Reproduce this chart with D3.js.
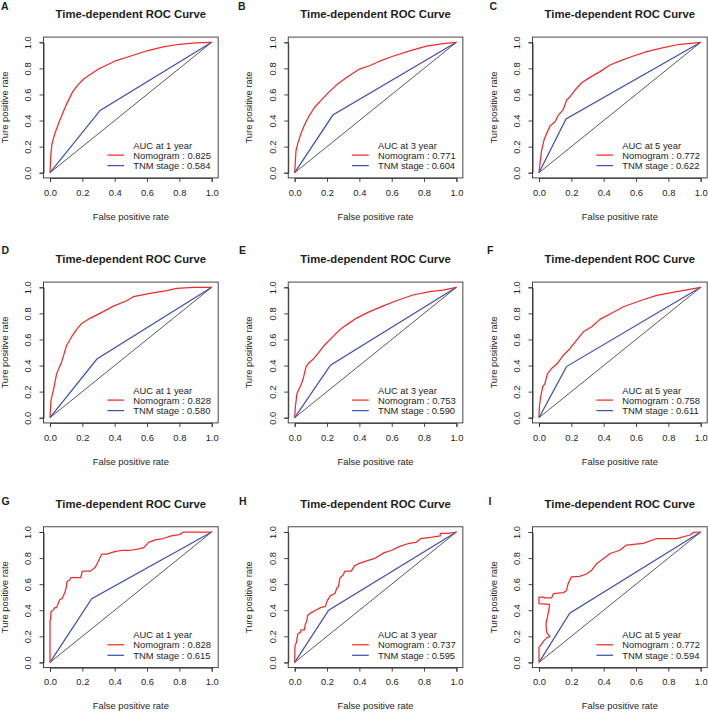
<!DOCTYPE html>
<html>
<head>
<meta charset="utf-8">
<script src="https://cdn.jsdelivr.net/npm/d3@7"></script>
<style>
  html, body { margin: 0; padding: 0; background: #fff; }
  svg { display: block; font-family: "Liberation Sans", Arial, sans-serif; }
</style>
</head>
<body>
<div id="chart"></div>
<script>
// ---------------- data ----------------
const panelLabels = ["A", "B", "C", "D", "E", "F", "G", "H", "I"];
const years = [1, 3, 5, 1, 3, 5, 1, 3, 5];
const nomogramAUC = ["0.825", "0.771", "0.772", "0.828", "0.753", "0.758", "0.828", "0.737", "0.772"];
const tnmAUC = ["0.584", "0.604", "0.622", "0.580", "0.590", "0.611", "0.615", "0.595", "0.594"];
const tnmKnotFPR = [0.31, 0.236, 0.167, 0.29, 0.221, 0.17, 0.258, 0.21, 0.19];
const tnmKnotTPR = [0.478, 0.442, 0.412, 0.45, 0.403, 0.392, 0.488, 0.40, 0.378];
const xTicks = [0, 0.2, 0.4, 0.6, 0.8, 1.0];
const yTicks = [0, 0.2, 0.4, 0.6, 0.8, 1.0];

const nomogramA = [[0,0],[0.004,0.1],[0.006,0.15],[0.012,0.22],[0.03,0.3],[0.06,0.4],[0.1,0.52],[0.14,0.62],[0.17,0.67],[0.21,0.72],[0.3,0.795],[0.4,0.855],[0.5,0.895],[0.6,0.935],[0.7,0.965],[0.8,0.985],[0.9,0.995],[1,1]];
const nomogramB = [[0,0],[0.008,0.17],[0.019,0.225],[0.039,0.3],[0.06,0.366],[0.091,0.44],[0.122,0.5],[0.163,0.555],[0.205,0.61],[0.256,0.67],[0.318,0.728],[0.4,0.795],[0.463,0.82],[0.525,0.855],[0.607,0.893],[0.711,0.934],[0.814,0.97],[0.917,0.99],[1,1]];
const nomogramC = [[0,0],[0.006,0.07],[0.016,0.17],[0.031,0.25],[0.047,0.3],[0.068,0.358],[0.099,0.391],[0.12,0.442],[0.151,0.486],[0.171,0.558],[0.192,0.583],[0.223,0.634],[0.264,0.69],[0.315,0.731],[0.377,0.775],[0.439,0.826],[0.501,0.857],[0.584,0.895],[0.666,0.928],[0.769,0.959],[0.872,0.985],[1,1]];
const nomogramD = [[0,0],[0.006,0.133],[0.021,0.21],[0.041,0.338],[0.072,0.428],[0.103,0.556],[0.134,0.621],[0.165,0.677],[0.196,0.723],[0.247,0.762],[0.309,0.8],[0.392,0.856],[0.474,0.897],[0.515,0.928],[0.619,0.954],[0.722,0.974],[0.784,0.992],[0.887,1.0],[1,1]];
const nomogramE = [[0,0],[0.004,0.082],[0.014,0.185],[0.033,0.236],[0.05,0.287],[0.06,0.338],[0.07,0.39],[0.087,0.42],[0.112,0.446],[0.143,0.492],[0.184,0.556],[0.225,0.608],[0.277,0.672],[0.318,0.71],[0.38,0.762],[0.463,0.813],[0.545,0.856],[0.628,0.897],[0.731,0.941],[0.835,0.967],[0.917,0.979],[1,1]];
const nomogramF = [[0,0],[0.002,0.082],[0.01,0.159],[0.023,0.236],[0.037,0.262],[0.052,0.338],[0.078,0.377],[0.113,0.415],[0.151,0.479],[0.192,0.531],[0.233,0.595],[0.274,0.659],[0.326,0.697],[0.377,0.754],[0.439,0.795],[0.522,0.851],[0.625,0.897],[0.728,0.938],[0.852,0.967],[1,1]];
const nomogramG = [[0,0],[0,0.32],[0.004,0.33],[0.006,0.39],[0.02,0.40],[0.03,0.42],[0.04,0.42],[0.05,0.45],[0.06,0.48],[0.075,0.49],[0.09,0.53],[0.1,0.57],[0.105,0.62],[0.12,0.63],[0.13,0.65],[0.19,0.65],[0.2,0.70],[0.25,0.70],[0.28,0.73],[0.3,0.78],[0.32,0.83],[0.35,0.83],[0.4,0.85],[0.45,0.86],[0.5,0.86],[0.55,0.87],[0.58,0.88],[0.61,0.92],[0.65,0.94],[0.7,0.95],[0.75,0.97],[0.8,0.98],[0.825,1.0],[1,1]];
const nomogramH = [[0,0],[0.002,0.13],[0.01,0.15],[0.015,0.19],[0.02,0.22],[0.035,0.23],[0.04,0.25],[0.06,0.25],[0.065,0.29],[0.075,0.32],[0.08,0.36],[0.1,0.38],[0.13,0.40],[0.16,0.42],[0.19,0.43],[0.2,0.47],[0.22,0.51],[0.25,0.53],[0.26,0.57],[0.27,0.58],[0.28,0.65],[0.30,0.67],[0.31,0.70],[0.35,0.70],[0.37,0.74],[0.4,0.76],[0.45,0.78],[0.5,0.80],[0.55,0.84],[0.6,0.86],[0.65,0.89],[0.7,0.91],[0.75,0.92],[0.78,0.95],[0.85,0.96],[0.9,0.97],[0.9,0.99],[0.95,0.99],[1,1]];
const nomogramI = [[0,0],[0,0.116],[0.016,0.14],[0.031,0.167],[0.05,0.19],[0.068,0.2],[0.047,0.23],[0.043,0.296],[0.052,0.347],[0.064,0.424],[0.064,0.445],[0.0,0.45],[0.0,0.5],[0.03,0.5],[0.035,0.494],[0.078,0.494],[0.089,0.527],[0.15,0.535],[0.17,0.55],[0.18,0.604],[0.2,0.655],[0.25,0.66],[0.29,0.676],[0.326,0.707],[0.357,0.758],[0.4,0.797],[0.44,0.835],[0.5,0.86],[0.54,0.9],[0.645,0.913],[0.728,0.95],[0.85,0.95],[0.934,0.977],[0.955,0.997],[1,1]];
const nomogramCurves = [nomogramA, nomogramB, nomogramC, nomogramD, nomogramE, nomogramF, nomogramG, nomogramH, nomogramI];

// ---------------- layout ----------------
const W = 708, H = 712;
const colX0 = [50, 294.7, 539];
const rowY1 = [42.3, 287.3, 532];
const plotW = 161.7, plotH = 130.4;
const letterPos = [[1,10],[238,10],[489.5,10],[1.5,254],[239,254],[487,254],[1.5,504.5],[239,504.5],[488.5,504.5]];

const RED = "#f42a2a", BLUE = "#3e50b6", INK = "#1e1e1e";
const fs = 9.4;

const svg = d3.select("#chart").append("svg").attr("width", W).attr("height", H);

panelLabels.forEach((lab, i) => {
  const r = Math.floor(i / 3), c = i % 3;
  const x = d3.scaleLinear().domain([0, 1]).range([colX0[c], colX0[c] + plotW]);
  const y = d3.scaleLinear().domain([0, 1]).range([rowY1[r] + plotH, rowY1[r]]);
  const g = svg.append("g");

  // panel letter
  g.append("text").attr("x", letterPos[i][0]).attr("y", letterPos[i][1])
    .style("font-size", "10.5px").attr("font-weight", "bold").attr("fill", INK).text(lab);

  // title
  g.append("text").attr("x", (x(-0.04) + x(1.04)) / 2).attr("y", y(1) - 24.3)
    .attr("text-anchor", "middle").style("font-size", "11.3px").attr("font-weight", "bold")
    .attr("fill", INK).text("Time-dependent ROC Curve");

  // plot box
  g.append("rect").attr("x", x(-0.04)).attr("y", y(1.04))
    .attr("width", x(1.04) - x(-0.04)).attr("height", y(-0.04) - y(1.04))
    .attr("fill", "none").attr("stroke", "#333").attr("stroke-width", 0.9);

  // x axis
  const xa = g.append("g").attr("transform", `translate(0,${y(-0.04)})`)
    .call(d3.axisBottom(x).tickValues(xTicks).tickFormat(d3.format(".1f")).tickSizeOuter(0).tickSize(4).tickPadding(7));
  xa.attr("font-family", null).attr("font-size", null);
  xa.select(".domain").attr("stroke", "#333").attr("stroke-width", 0.9);
  xa.selectAll(".tick line").attr("stroke", "#333").attr("stroke-width", 0.9);
  xa.selectAll(".tick text").style("font-size", fs + "px").attr("fill", INK);

  // y axis
  const ya = g.append("g").attr("transform", `translate(${x(-0.04)},0)`)
    .call(d3.axisLeft(y).tickValues(yTicks).tickFormat(d3.format(".1f")).tickSizeOuter(0).tickSize(4));
  ya.attr("font-family", null).attr("font-size", null);
  ya.select(".domain").attr("stroke", "#333").attr("stroke-width", 0.9);
  ya.selectAll(".tick line").attr("stroke", "#333").attr("stroke-width", 0.9);
  ya.selectAll(".tick text").style("font-size", fs + "px").attr("fill", INK)
    .attr("x", null).attr("dy", null)
    .attr("text-anchor", "middle")
    .attr("transform", `translate(${x(0) - 19 - x(-0.04)},0) rotate(-90)`);

  // axis titles
  g.append("text").attr("x", (x(-0.04) + x(1.04)) / 2).attr("y", y(0) + 46.8)
    .attr("text-anchor", "middle").style("font-size", fs + "px").attr("fill", INK).text("False positive rate");
  g.append("text").attr("transform", `translate(${x(0) - 42.3},${(y(-0.04) + y(1.04)) / 2}) rotate(-90)`)
    .attr("text-anchor", "middle").style("font-size", fs + "px").attr("fill", INK).text("Ture positive rate");

  // reference diagonal
  g.append("line").attr("x1", x(0)).attr("y1", y(0)).attr("x2", x(1)).attr("y2", y(1))
    .attr("stroke", "#111").attr("stroke-width", 0.7);

  const line = d3.line().x(d => x(d[0])).y(d => y(d[1]));

  // TNM stage ROC
  g.append("path").datum([[0, 0], [tnmKnotFPR[i], tnmKnotTPR[i]], [1, 1]])
    .attr("d", line).attr("fill", "none").attr("stroke", BLUE).attr("stroke-width", 1.25);

  // Nomogram ROC
  g.append("path").datum(nomogramCurves[i])
    .attr("d", line).attr("fill", "none").attr("stroke", RED).attr("stroke-width", 1.25)
    .attr("stroke-linejoin", "round");

  // legend
  const lx = x(0.515);
  g.append("text").attr("x", lx).attr("y", y(0) - 24).style("font-size", fs + "px").attr("fill", INK)
    .text(`AUC at ${years[i]} year`);
  g.append("text").attr("x", lx).attr("y", y(0) - 14).style("font-size", fs + "px").attr("fill", INK)
    .text(`Nomogram : ${nomogramAUC[i]}`);
  g.append("text").attr("x", lx).attr("y", y(0) - 3.6).style("font-size", fs + "px").attr("fill", INK)
    .text(`TNM stage : ${tnmAUC[i]}`);
  g.append("line").attr("x1", x(0.355)).attr("x2", x(0.458)).attr("y1", y(0) - 17.6).attr("y2", y(0) - 17.6)
    .attr("stroke", RED).attr("stroke-width", 1.25);
  g.append("line").attr("x1", x(0.355)).attr("x2", x(0.458)).attr("y1", y(0) - 7.1).attr("y2", y(0) - 7.1)
    .attr("stroke", BLUE).attr("stroke-width", 1.25);
});
</script>
</body>
</html>
